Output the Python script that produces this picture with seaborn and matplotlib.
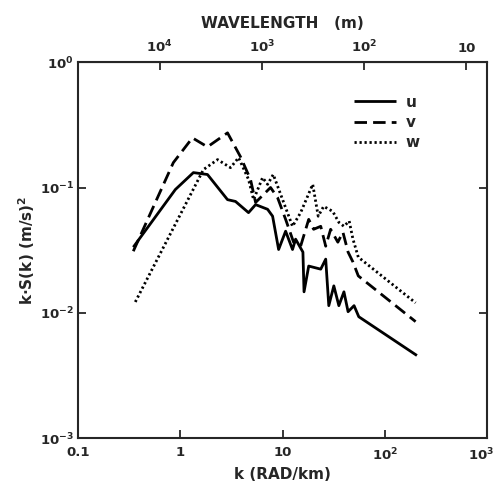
import numpy as np
import pandas as pd
import matplotlib
matplotlib.use("Agg")
import matplotlib.pyplot as plt
import matplotlib.transforms as mtransforms
import seaborn as sns

# spectra: k in RAD/km, k*S(k) in (m/s)^2
k_u = [0.346, 0.893, 1.34, 1.84, 2.89, 3.46, 4.64, 5.44, 7.13, 7.98, 9.14,
       10.7, 12.5, 13.4, 15.8, 16.2, 18.0, 23.6, 26.4, 28.3, 31.7, 35.5,
       39.8, 43.7, 50.0, 55.6, 206]
s_u = [0.0334, 0.0964, 0.1315, 0.127, 0.080, 0.0774, 0.063, 0.073, 0.067,
       0.059, 0.032, 0.0448, 0.032, 0.0387, 0.0305, 0.0147, 0.0236, 0.0223,
       0.0268, 0.0114, 0.0164, 0.0114, 0.0147, 0.0102, 0.0114, 0.0093, 0.00456]

k_v = [0.346, 0.853, 1.31, 1.84, 2.89, 3.87, 4.85, 5.44, 7.62, 8.93, 10.7,
       12.8, 15.0, 18.0, 20.1, 23.6, 26.4, 29.5, 34.7, 38.9, 43.7, 48.8,
       55.0, 200]
s_v = [0.031, 0.158, 0.249, 0.211, 0.273, 0.176, 0.116, 0.076, 0.100, 0.083,
       0.0557, 0.0366, 0.034, 0.0557, 0.0464, 0.049, 0.034, 0.0464, 0.0366,
       0.044, 0.0305, 0.0254, 0.0197, 0.0085]

k_w = [0.362, 1.68, 2.31, 3.09, 3.71, 4.64, 5.2, 6.37, 7.13, 8.1, 10.0,
       12.5, 15.0, 19.7, 22.3, 25.2, 30.9, 35.5, 39.8, 44.8, 48.8, 55.0, 200]
s_w = [0.0122, 0.139, 0.167, 0.144, 0.173, 0.116, 0.080, 0.12, 0.106, 0.127,
       0.080, 0.049, 0.063, 0.106, 0.059, 0.0707, 0.0645, 0.0527, 0.049,
       0.054, 0.0387, 0.0278, 0.012]

lam_ticks = [1e4, 1e3, 1e2, 10]
lam_labels = ["$10^4$", "$10^3$", "$10^2$", "10"]
k_ticks = [0.1, 1, 10, 100, 1000]
k_labels = ["0.1", "1", "10", "$10^2$", "$10^3$"]
y_ticks = [1e-3, 1e-2, 1e-1, 1]
y_labels = ["$10^{-3}$", "$10^{-2}$", "$10^{-1}$", "$10^0$"]

sns.set_style("ticks")
plt.rcParams["font.family"] = ["DejaVu Sans"]
plt.rcParams["font.weight"] = "bold"
plt.rcParams["mathtext.default"] = "bf"

fig = plt.figure(figsize=(4.98, 4.90), dpi=100)
ax = fig.add_axes([0.157, 0.106, 0.821, 0.767])

series = [("u", k_u, s_u, (0, ())), ("v", k_v, s_v, (0, (4.5, 2.2))),
          ("w", k_w, s_w, (0, (0.8, 1.0)))]
for name, k, s, ls in series:
    df = pd.DataFrame({"k": k, "S": s})
    sns.lineplot(data=df, x="k", y="S", ax=ax, color="black", linewidth=2.0,
                 linestyle=ls, sort=False, estimator=None, label=name)

ax.set_xscale("log")
ax.set_yscale("log")
ax.set_xlim(0.1, 1000)
ax.set_ylim(1e-3, 1)
ax.set_xticks(k_ticks)
ax.set_xticklabels(k_labels)
ax.set_yticks(y_ticks)
ax.set_yticklabels(y_labels)
ax.minorticks_off()
ax.tick_params(direction="in", length=6, width=1.3, labelsize=9.5,
               right=True, top=False)
ax.tick_params(axis="x", pad=6)
ax.tick_params(axis="y", pad=3)
for sp in ax.spines.values():
    sp.set_visible(True)
    sp.set_linewidth(1.5)

# last bottom label sits right on the figure edge, nudge it in a bit
last = ax.get_xticklabels()[-1]
last.set_transform(last.get_transform() +
                   mtransforms.ScaledTranslation(-6 / 100, 0, fig.dpi_scale_trans))

ax.set_xlabel("k (RAD/km)", fontsize=11, fontweight="bold", labelpad=3)
ax.set_ylabel("k$\\bullet$S(k) (m/s)$^2$", fontsize=11, fontweight="bold",
              labelpad=2)

# wavelength axis on top: lambda(m) = 2*pi*1000 / k
top = ax.secondary_xaxis("top", functions=(lambda k: 2 * np.pi * 1000 / k,
                                           lambda l: 2 * np.pi * 1000 / l))
top.set_xticks(lam_ticks)
top.set_xticklabels(lam_labels)
top.minorticks_off()
top.tick_params(direction="in", length=6, width=1.3, labelsize=9.5, pad=5)
top.set_xlabel("WAVELENGTH   (m)", fontsize=11, fontweight="bold", labelpad=8)

leg = ax.legend(loc="upper left", bbox_to_anchor=(0.64, 0.95), frameon=False,
                handlelength=2.8, handletextpad=0.6, labelspacing=0.35,
                fontsize=11)

fig.savefig("out.png", dpi=100)
